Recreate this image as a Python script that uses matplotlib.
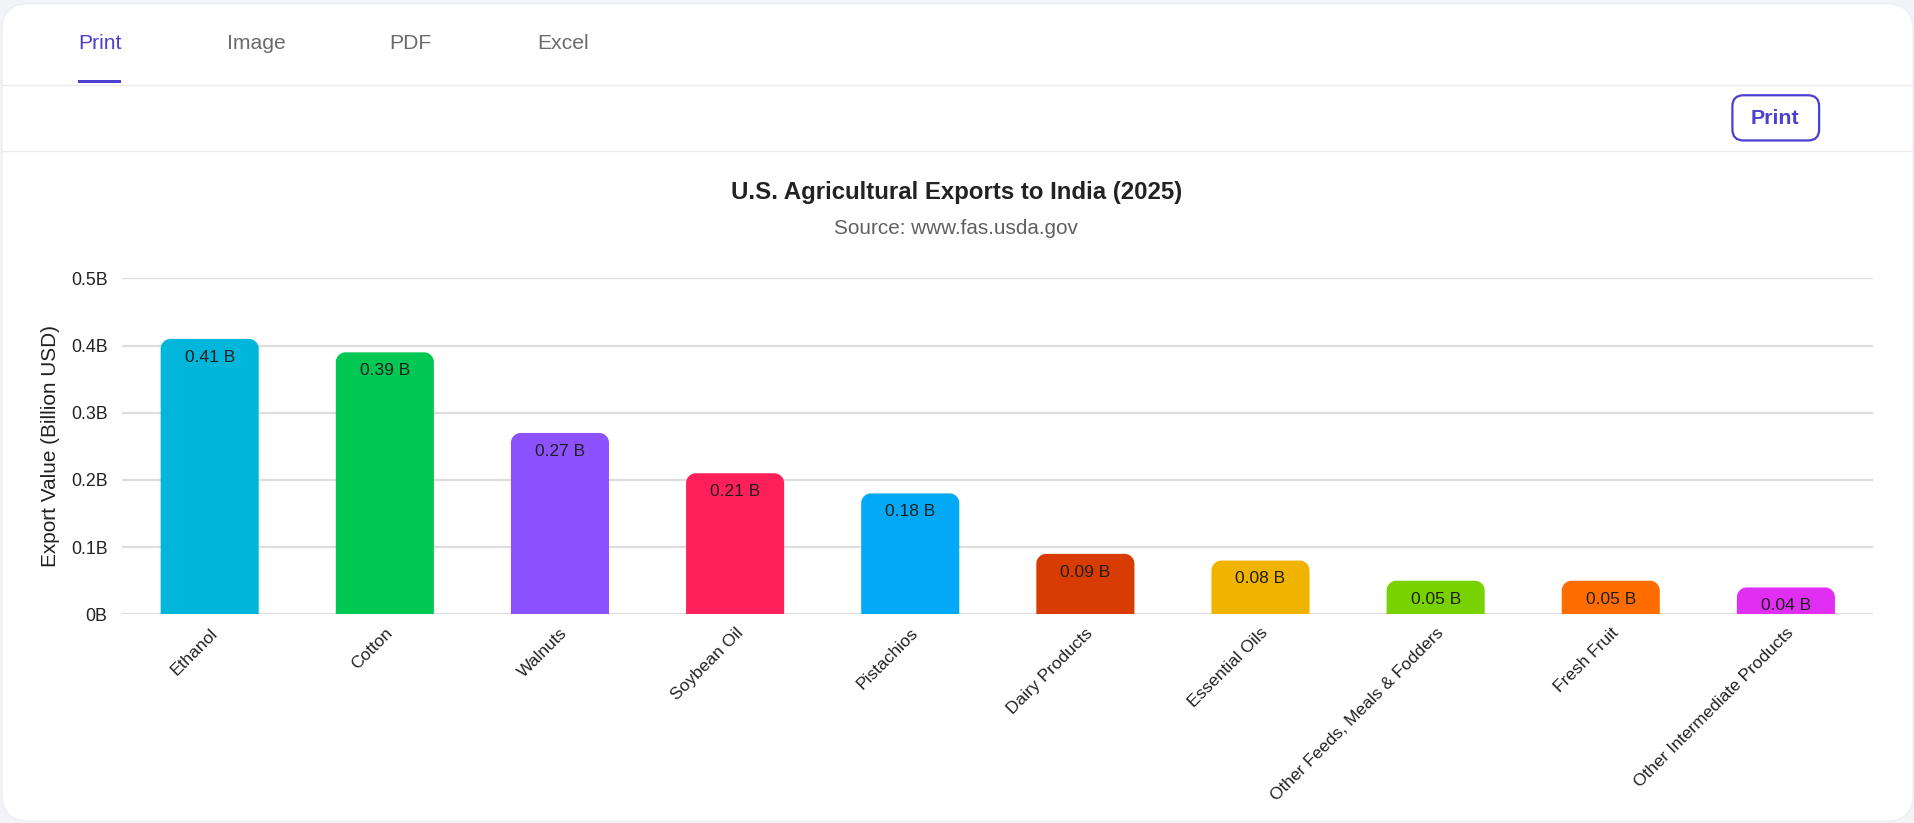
import matplotlib
matplotlib.use("Agg")
import matplotlib.pyplot as plt
from matplotlib.patches import FancyBboxPatch, PathPatch, Rectangle
from matplotlib.path import Path
from matplotlib.ticker import FixedLocator, FuncFormatter

plt.rcParams['font.family'] = ['Liberation Sans', 'DejaVu Sans']

categories = ["Ethanol", "Cotton", "Walnuts", "Soybean Oil", "Pistachios",
              "Dairy Products", "Essential Oils", "Other Feeds, Meals & Fodders",
              "Fresh Fruit", "Other Intermediate Products"]
values = [0.41, 0.39, 0.27, 0.21, 0.18, 0.09, 0.08, 0.05, 0.05, 0.04]
colors = ["#00b7db", "#00c853", "#8c52ff", "#ff1f5a", "#03a9f4",
          "#d83c02", "#efb300", "#78d200", "#ff6d00", "#e02ff2"]
y_ticks = [0, 0.1, 0.2, 0.3, 0.4, 0.5]
tabs = ["Print", "Image", "PDF", "Excel"]

W, H = 1915, 823
DPI = 100
S = W / 1568.0          # layout units -> pixels
Wd, Hd = 1568.0, H / S  # layout canvas size

def fs(px):
    # font size given in layout px -> points
    return px * S * 72.0 / DPI

fig = plt.figure(figsize=(W / DPI, H / DPI), dpi=DPI)
fig.patch.set_facecolor("#f2f4f8")

ui = fig.add_axes([0, 0, 1, 1], zorder=0)
ui.set_xlim(0, Wd)
ui.set_ylim(Hd, 0)
ui.axis("off")
ui.patch.set_visible(False)
card = FancyBboxPatch((1.5, 3), Wd - 3, Hd - 4.5, boxstyle="round,pad=0,rounding_size=22",
                      facecolor="white", edgecolor="#eceef3", linewidth=1)
ui.add_patch(card)
tab_x = [64, 186, 319, 440]
for i, (t, x) in enumerate(zip(tabs, tab_x)):
    ui.text(x, 36, t, fontsize=fs(17.3), color="#4a3fce" if i == 0 else "#6b6b6b",
            ha="left", va="center")
ui.add_patch(Rectangle((64, 65.5), 35, 2.5, facecolor="#4a3fce", edgecolor="none"))
ui.plot([1.5, Wd - 1.5], [69.5, 69.5], color="#ebebeb", lw=1)
ui.plot([1.5, Wd - 1.5], [123.5, 123.5], color="#ebebeb", lw=1)
btn = FancyBboxPatch((1418.5, 78), 71, 37, boxstyle="round,pad=0,rounding_size=9",
                     facecolor="white", edgecolor="#4a3fce", linewidth=1.6)
ui.add_patch(btn)
ui.text(1453.5, 97, "Print", fontsize=fs(17.5), fontweight="bold", color="#4a3fce",
        ha="center", va="center")
ui.text(783, 158, "U.S. Agricultural Exports to India (2025)", fontsize=fs(19.6),
        fontweight="bold", color="#222222", ha="center", va="center")
ui.text(783, 187, "Source: www.fas.usda.gov", fontsize=fs(17), color="#606060",
        ha="center", va="center")

# Chart axes (layout units)
left, right, top, bottom = 100, 1534, 228, 503
ax = fig.add_axes([left / Wd, (Hd - bottom) / Hd, (right - left) / Wd, (bottom - top) / Hd], zorder=1)
ax.patch.set_visible(False)
x = list(range(len(categories)))
bars = ax.bar(x, values, width=0.56, color=colors, zorder=2)
ax.set_xlim(-0.5, len(categories) - 0.5)
ax.set_ylim(0, 0.5)

r_lay = 8
rx = r_lay / ((right - left) / len(categories))
ry = r_lay / ((bottom - top) / 0.5)
k = 0.5523
for b in bars:
    x0, y0 = b.get_x(), b.get_y()
    w, h = b.get_width(), b.get_height()
    x1, y1 = x0 + w, y0 + h
    verts = [(x0, y0), (x0, y1 - ry),
             (x0, y1 - ry + k * ry), (x0 + rx - k * rx, y1), (x0 + rx, y1),
             (x1 - rx, y1),
             (x1 - rx + k * rx, y1), (x1, y1 - ry + k * ry), (x1, y1 - ry),
             (x1, y0), (x0, y0)]
    codes = [Path.MOVETO, Path.LINETO,
             Path.CURVE4, Path.CURVE4, Path.CURVE4,
             Path.LINETO,
             Path.CURVE4, Path.CURVE4, Path.CURVE4,
             Path.LINETO, Path.CLOSEPOLY]
    pp = PathPatch(Path(verts, codes), facecolor=b.get_facecolor(), edgecolor="none", zorder=2)
    ax.add_patch(pp)
    b.set_visible(False)

for xi, v in zip(x, values):
    ax.annotate(f"{v:.2f} B", (xi, v), xytext=(0, -fs(15)), textcoords="offset points",
                ha="center", va="center", fontsize=fs(14.2), color="#1f1f1f", zorder=3)

ax.yaxis.set_major_locator(FixedLocator(y_ticks))
ax.yaxis.set_major_formatter(FuncFormatter(lambda v, p: f"{v:g}B"))
ax.grid(axis="y", color="#dddddd", linewidth=1.6, zorder=0)
ax.set_axisbelow(True)
for s in ax.spines.values():
    s.set_visible(False)
ax.tick_params(axis="y", length=0, pad=fs(12), labelsize=fs(14.5), labelcolor="#222222")
ax.tick_params(axis="x", length=0, pad=fs(9), labelsize=fs(14.2), labelcolor="#222222")
ax.set_xticks(x)
ax.set_xticklabels(categories, rotation=45, ha="right", rotation_mode="anchor")
ax.set_ylabel("Export Value (Billion USD)", fontsize=fs(17), color="#222222", labelpad=fs(9))

fig.savefig("out.png", dpi=DPI, facecolor=fig.get_facecolor())
